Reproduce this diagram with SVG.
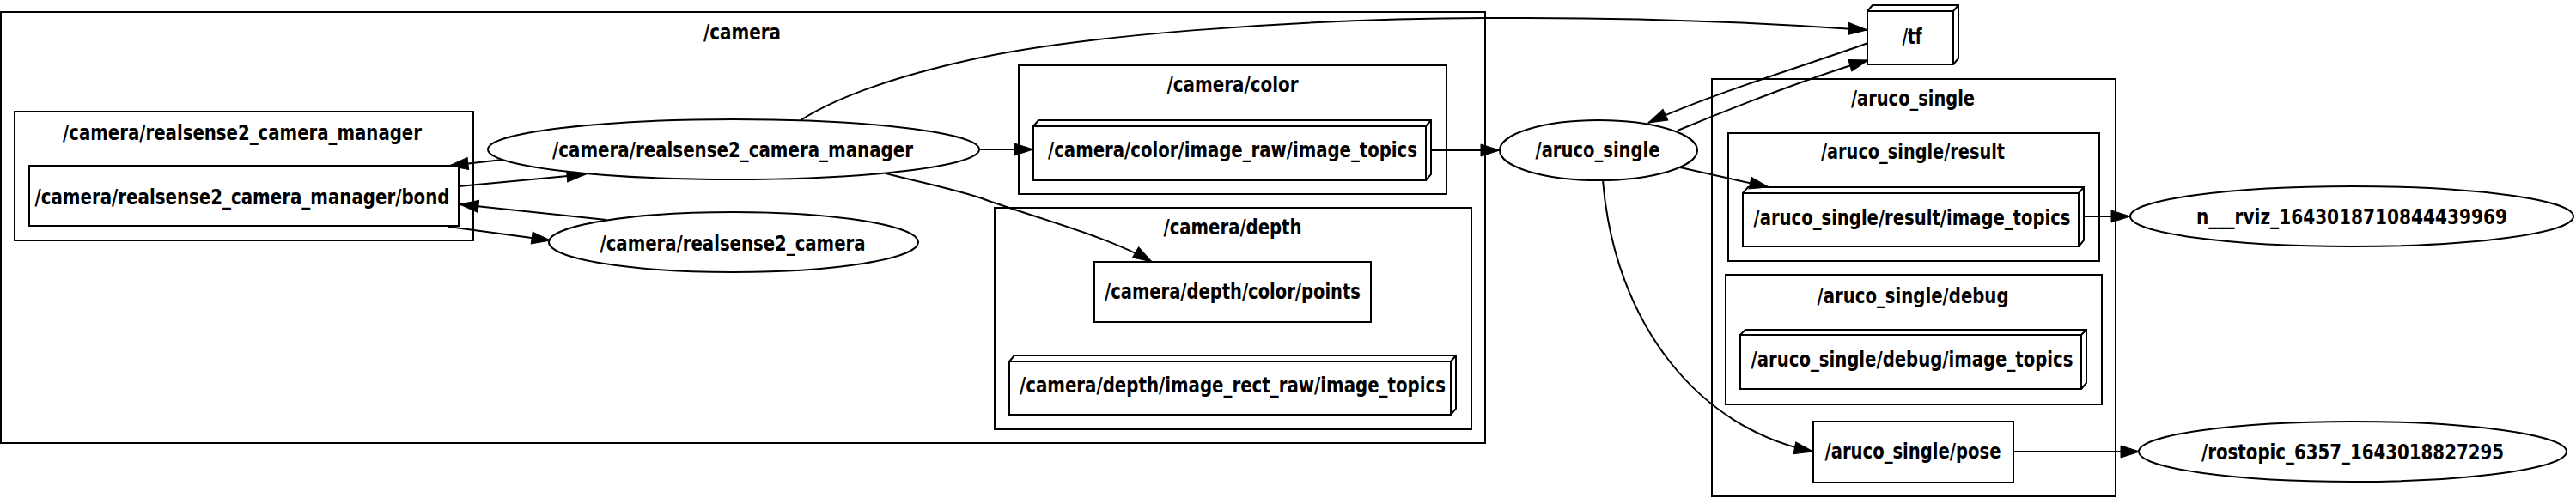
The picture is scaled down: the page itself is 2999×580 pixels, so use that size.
<svg xmlns="http://www.w3.org/2000/svg" width="2999" height="580" viewBox="0 0 2999 580">
<style>
.bg{fill:#fff}
.cl{fill:none;stroke:#000;stroke-width:2}
.nd{fill:#fff;stroke:#000;stroke-width:2}
.b3{fill:none;stroke:#000;stroke-width:2;stroke-linejoin:miter}
.e{fill:none;stroke:#000;stroke-width:2;marker-end:url(#arr)}
.t{font-family:"DejaVu Sans","Liberation Sans",sans-serif;font-weight:bold;font-size:25px;text-anchor:middle;fill:#000}
</style>
<defs>
<marker id="arr" markerUnits="userSpaceOnUse" markerWidth="22" markerHeight="14" refX="22" refY="7" orient="auto" viewBox="0 0 22 14" overflow="visible">
<path d="M0,0 L22,7 L0,14 z" fill="#000" stroke="#000" stroke-width="1"/>
</marker>
</defs>
<rect class="bg" x="0" y="0" width="2999" height="580"/>

<g id="cluster_camera">
<rect class="cl" x="1" y="14" width="1728" height="502"/>
<text class="t" x="864" y="46" textLength="90" lengthAdjust="spacingAndGlyphs">/camera</text>
</g>
<g id="cluster_camera_manager">
<rect class="cl" x="17" y="130" width="534" height="150"/>
<text class="t" x="282" y="163" textLength="418" lengthAdjust="spacingAndGlyphs">/camera/realsense2_camera_manager</text>
</g>
<g id="cluster_camera_color">
<rect class="cl" x="1186" y="76" width="498" height="150"/>
<text class="t" x="1435" y="107" textLength="153" lengthAdjust="spacingAndGlyphs">/camera/color</text>
</g>
<g id="cluster_camera_depth">
<rect class="cl" x="1158" y="242" width="555" height="258"/>
<text class="t" x="1435" y="273" textLength="161" lengthAdjust="spacingAndGlyphs">/camera/depth</text>
</g>
<g id="cluster_aruco_single">
<rect class="cl" x="1993" y="92" width="470" height="486"/>
<text class="t" x="2227" y="123" textLength="144" lengthAdjust="spacingAndGlyphs">/aruco_single</text>
</g>
<g id="cluster_aruco_result">
<rect class="cl" x="2012" y="155" width="432" height="149"/>
<text class="t" x="2227" y="185" textLength="214" lengthAdjust="spacingAndGlyphs">/aruco_single/result</text>
</g>
<g id="cluster_aruco_debug">
<rect class="cl" x="2009" y="320" width="438" height="151"/>
<text class="t" x="2227" y="353" textLength="223" lengthAdjust="spacingAndGlyphs">/aruco_single/debug</text>
</g>

<g id="connectors">
<path class="e" d="M585,186 L523,193"/>
<path class="e" d="M534,217 L682,203"/>
<path class="e" d="M706,256 L535,238"/>
<path class="e" d="M522,264 L641,280"/>
<path class="e" d="M1140,174 L1203,174"/>
<path class="e" d="M1031,202 C1070,212 1110,220 1143,231 C1200,252 1290,275 1341,305"/>
<path class="e" d="M1666,175 L1746,175"/>
<path class="e" d="M932,140 C970,116 1030,92 1128,70 C1250,42 1500,22 1729,21 C1900,20 2050,26 2174,35"/>
<path class="e" d="M2175,50 C2120,70 1990,110 1919,143"/>
<path class="e" d="M1953,152 C2030,120 2120,86 2175,70"/>
<path class="e" d="M1956,195 L2059,218"/>
<path class="e" d="M2426,252 L2480,252"/>
<path class="e" d="M1866,210 C1880,380 1980,500 2111,526"/>
<path class="e" d="M2344,526 L2491,526"/>
</g>

<g id="n_bond">
<rect class="nd" x="34" y="193" width="500" height="70"/>
<text class="t" x="282" y="238" textLength="483" lengthAdjust="spacingAndGlyphs">/camera/realsense2_camera_manager/bond</text>
</g>
<g id="n_camera_manager">
<ellipse class="nd" cx="854" cy="174" rx="286" ry="35"/>
<text class="t" x="853" y="183" textLength="420" lengthAdjust="spacingAndGlyphs">/camera/realsense2_camera_manager</text>
</g>
<g id="n_realsense2_camera">
<ellipse class="nd" cx="854" cy="282" rx="215" ry="35"/>
<text class="t" x="853" y="292" textLength="309" lengthAdjust="spacingAndGlyphs">/camera/realsense2_camera</text>
</g>
<g id="t_color_image_raw">
<rect class="nd" x="1203" y="147" width="457" height="63"/>
<path class="b3" d="M1203,147 L1209,140 H1666 V203 L1660,210 M1660,147 L1666,140"/>
<text class="t" x="1435" y="183" textLength="430" lengthAdjust="spacingAndGlyphs">/camera/color/image_raw/image_topics</text>
</g>
<g id="t_depth_points">
<rect class="nd" x="1274" y="305" width="322" height="70"/>
<text class="t" x="1435" y="348" textLength="298" lengthAdjust="spacingAndGlyphs">/camera/depth/color/points</text>
</g>
<g id="t_depth_rect_raw">
<rect class="nd" x="1175" y="421" width="514" height="62"/>
<path class="b3" d="M1175,421 L1181,414 H1695 V476 L1689,483 M1689,421 L1695,414"/>
<text class="t" x="1435" y="457" textLength="496" lengthAdjust="spacingAndGlyphs">/camera/depth/image_rect_raw/image_topics</text>
</g>
<g id="n_aruco_single">
<ellipse class="nd" cx="1861" cy="175" rx="115" ry="35"/>
<text class="t" x="1860" y="183" textLength="145" lengthAdjust="spacingAndGlyphs">/aruco_single</text>
</g>
<g id="t_tf">
<rect class="nd" x="2174" y="13" width="100" height="62"/>
<path class="b3" d="M2174,13 L2180,6 H2280 V68 L2274,75 M2274,13 L2280,6"/>
<text class="t" x="2226" y="51" textLength="23" lengthAdjust="spacingAndGlyphs">/tf</text>
</g>
<g id="t_result_image_topics">
<rect class="nd" x="2029" y="225" width="391" height="62"/>
<path class="b3" d="M2029,225 L2035,218 H2426 V280 L2420,287 M2420,225 L2426,218"/>
<text class="t" x="2226" y="262" textLength="369" lengthAdjust="spacingAndGlyphs">/aruco_single/result/image_topics</text>
</g>
<g id="t_debug_image_topics">
<rect class="nd" x="2026" y="390" width="397" height="63"/>
<path class="b3" d="M2026,390 L2032,384 H2429 V446 L2423,453 M2423,390 L2429,384"/>
<text class="t" x="2226" y="427" textLength="375" lengthAdjust="spacingAndGlyphs">/aruco_single/debug/image_topics</text>
</g>
<g id="t_pose">
<rect class="nd" x="2111" y="491" width="233" height="71"/>
<text class="t" x="2227" y="534" textLength="205" lengthAdjust="spacingAndGlyphs">/aruco_single/pose</text>
</g>
<g id="n_rviz">
<ellipse class="nd" cx="2738" cy="252" rx="258" ry="35"/>
<text class="t" x="2738" y="261" textLength="362" lengthAdjust="spacingAndGlyphs">n___rviz_1643018710844439969</text>
</g>
<g id="n_rostopic">
<ellipse class="nd" cx="2739" cy="526" rx="249" ry="35"/>
<text class="t" x="2739" y="535" textLength="352" lengthAdjust="spacingAndGlyphs">/rostopic_6357_1643018827295</text>
</g>
</svg>
